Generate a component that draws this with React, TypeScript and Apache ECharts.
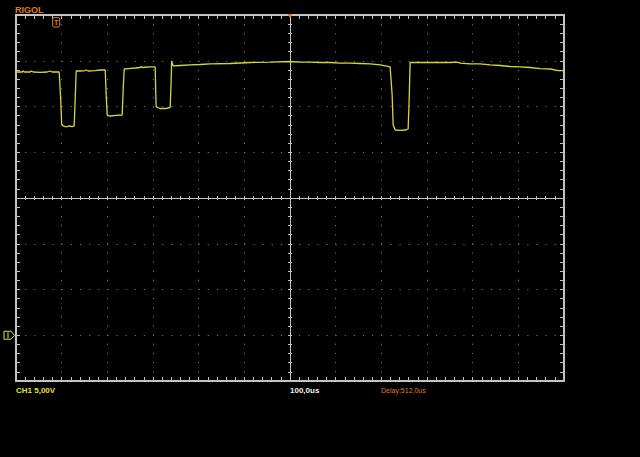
import React, { useEffect, useRef } from "react";
import * as echarts from "echarts";

// Time relative to trigger (µs) and voltage relative to CH1 ground (V)
const timeUs = [
  -88, -74.4, -72.3, -70.1, -56.9, -54.7, -50.4, -35.0, -19.7, -13.1, -8.8, 6.6,
  9.9, 12.0,
  15.3, 21.9, 28.5, 35.0, 39.4,
  41.6, 43.8,
  52.6, 63.5, 65.7, 70.1, 85.4, 96.3, 107.3,
  109.5, 111.7,
  118.2, 131.4, 144.5,
  146.7, 148.9,
  157.7, 173.0, 183.9, 186.1, 188.3, 205.8, 216.8,
  217.9, 219.0,
  227.7, 238.7, 249.6,
  251.8, 252.9, 256.2,
  271.5, 293.4, 315.3, 337.2, 381.0, 424.8, 468.6, 512.4, 534.3, 556.2, 578.1, 600.0,
  621.8, 643.7, 665.6, 687.5, 709.4, 731.3,
  735.7, 737.9,
  742.3, 753.2, 764.2, 770.7,
  772.9, 775.1,
  797.0, 818.9, 840.8, 862.7, 878.0, 884.6, 906.5, 928.4, 950.3, 972.2, 994.1,
  1016.0, 1037.9, 1059.8, 1081.7, 1092.6, 1099.2, 1110.1,
];
const volts = [
  28.77, 28.77, 28.88, 28.77, 28.77, 28.88, 28.77, 28.72, 28.77, 28.88, 28.77, 28.77,
  25.71, 23.09,
  22.87, 22.76, 22.87, 22.81, 22.87,
  25.71, 28.88,
  28.88, 28.93, 28.99, 28.88, 28.93, 28.99, 28.99,
  26.26, 24.07,
  23.96, 24.02, 24.07,
  26.80, 29.10,
  29.15, 29.21, 29.26, 29.37, 29.26, 29.32, 29.32,
  26.80, 24.95,
  24.78, 24.78, 24.89,
  27.90, 29.97, 29.43,
  29.48, 29.54, 29.59, 29.65, 29.70, 29.81, 29.86, 29.92, 29.86, 29.86, 29.81, 29.81,
  29.75, 29.75, 29.70, 29.65, 29.54, 29.32,
  26.26, 22.98,
  22.43, 22.38, 22.43, 22.54,
  25.71, 29.81,
  29.81, 29.81, 29.81, 29.81, 29.86, 29.75, 29.65, 29.65, 29.54, 29.48, 29.37,
  29.32, 29.26, 29.15, 29.10, 28.99, 28.93, 28.93,
];

const US_PER_DIV = 100;
const V_PER_DIV = 5;
const DELAY_US = 512;
const GROUND_DIV = -3;
const X_DIVS = [-6, 6];
const Y_DIVS = [-4, 4];

const labelCh = "CH1 5,00V";
const labelTime = "100,0us";
const labelDelay = "Delay:512,0us";
const labelBrand = "RIGOL";

const GRID_COLOR = "#707070";
const FRAME = "#c4c4c4";
const TRACE = "#d6d63a";
const ORANGE = "#e07a22";
const YELLOW = "#e4e43e";

export default function App() {
  const ref = useRef<HTMLDivElement>(null);
  useEffect(() => {
    if (!ref.current) return;
    const chart = echarts.init(ref.current, undefined, { renderer: "svg" });
    const none = { show: false };
    const dotted = { show: true, lineStyle: { color: GRID_COLOR, type: [1.2, 7.93], width: 1 } };
    const centerX = (pos: "top" | "bottom", showSplit: boolean) => ({
      type: "value",
      gridIndex: 0,
      min: X_DIVS[0],
      max: X_DIVS[1],
      interval: 1,
      position: pos,
      axisLine: { show: true, onZero: true, onZeroAxisIndex: 0, lineStyle: { color: FRAME, width: 1 } },
      axisTick: { show: true, length: 2, lineStyle: { color: FRAME } },
      minorTick: { show: true, splitNumber: 5, length: 2, lineStyle: { color: FRAME } },
      axisLabel: none,
      splitLine: showSplit ? dotted : none,
      minorSplitLine: none,
    });
    const centerY = (pos: "left" | "right", showSplit: boolean) => ({
      type: "value",
      gridIndex: 0,
      min: Y_DIVS[0],
      max: Y_DIVS[1],
      interval: 1,
      position: pos,
      axisLine: { show: true, onZero: true, onZeroAxisIndex: 0, lineStyle: { color: FRAME, width: 1 } },
      axisTick: { show: true, length: 2, lineStyle: { color: FRAME } },
      minorTick: { show: true, splitNumber: 5, length: 2, lineStyle: { color: FRAME } },
      axisLabel: none,
      splitLine: showSplit ? dotted : none,
      minorSplitLine: none,
    });
    const borderX = (pos: "top" | "bottom") => ({
      type: "value",
      gridIndex: 0,
      min: X_DIVS[0],
      max: X_DIVS[1],
      interval: 1,
      position: pos,
      axisLine: { show: true, onZero: false, lineStyle: { color: FRAME, width: 2 } },
      axisTick: { show: true, inside: true, length: 4, lineStyle: { color: FRAME } },
      minorTick: { show: true, splitNumber: 5, length: 4, lineStyle: { color: FRAME } },
      axisLabel: none,
      splitLine: none,
    });
    const borderY = (pos: "left" | "right") => ({
      type: "value",
      gridIndex: 0,
      min: Y_DIVS[0],
      max: Y_DIVS[1],
      interval: 1,
      position: pos,
      axisLine: { show: true, onZero: false, lineStyle: { color: FRAME, width: 2 } },
      axisTick: { show: true, inside: true, length: 4, lineStyle: { color: FRAME } },
      minorTick: { show: true, splitNumber: 5, length: 4, lineStyle: { color: FRAME } },
      axisLabel: none,
      splitLine: none,
    });
    const tMin = DELAY_US + X_DIVS[0] * US_PER_DIV;
    const tMax = DELAY_US + X_DIVS[1] * US_PER_DIV;
    const vMin = (Y_DIVS[0] - GROUND_DIV) * V_PER_DIV;
    const vMax = (Y_DIVS[1] - GROUND_DIV) * V_PER_DIV;

    const option: any = {
      animation: false,
      backgroundColor: "#000000",
      grid: { left: 16, top: 15, width: 548, height: 366, containLabel: false },
      xAxis: [
        centerX("bottom", true),
        centerX("top", false),
        borderX("bottom"),
        borderX("top"),
        { type: "value", gridIndex: 0, min: tMin, max: tMax, show: false, splitLine: none },
      ],
      yAxis: [
        centerY("left", true),
        centerY("right", false),
        borderY("left"),
        borderY("right"),
        { type: "value", gridIndex: 0, min: vMin, max: vMax, show: false, splitLine: none },
      ],
      series: [
        {
          type: "line",
          xAxisIndex: 4,
          yAxisIndex: 4,
          data: timeUs.map((t, i) => [t, volts[i]]),
          showSymbol: false,
          symbol: "none",
          lineStyle: { color: TRACE, width: 1.3 },
          z: 5,
        },
      ],
    };
    chart.setOption(option);

    const trigX = chart.convertToPixel({ xAxisIndex: 4 }, 0) as number;
    const centerPx = chart.convertToPixel({ xAxisIndex: 4 }, DELAY_US) as number;
    const groundY = chart.convertToPixel({ yAxisIndex: 4 }, 0) as number;

    chart.setOption({
      graphic: [
        {
          type: "text",
          left: 15,
          top: 5,
          style: { text: labelBrand, fill: ORANGE, font: "bold 9px 'Liberation Sans'" },
        },
        {
          type: "rect",
          shape: { x: trigX - 3.5, y: 17.5, width: 7, height: 9.5, r: 1.5 },
          style: { fill: "none", stroke: ORANGE, lineWidth: 1 },
          z: 10,
        },
        {
          type: "text",
          x: trigX,
          y: 22.5,
          style: {
            text: "T",
            fill: ORANGE,
            font: "bold 7px 'Liberation Sans'",
            align: "center",
            verticalAlign: "middle",
          },
          z: 10,
        },
        {
          type: "polygon",
          shape: {
            points: [
              [centerPx - 2.5, 14],
              [centerPx + 2.5, 14],
              [centerPx, 18],
            ],
          },
          style: { fill: ORANGE },
          z: 10,
        },
        {
          type: "polygon",
          shape: {
            points: [
              [4, groundY - 4],
              [11, groundY - 4],
              [14.5, groundY],
              [11, groundY + 4],
              [4, groundY + 4],
            ],
          },
          style: { fill: "none", stroke: YELLOW, lineWidth: 1 },
          z: 10,
        },
        {
          type: "line",
          shape: { x1: 8, y1: groundY - 3, x2: 8, y2: groundY + 3 },
          style: { stroke: YELLOW, lineWidth: 1 },
          z: 10,
        },
        {
          type: "text",
          left: 16,
          top: 386,
          style: { text: labelCh, fill: YELLOW, font: "bold 8px 'Liberation Sans'" },
        },
        {
          type: "text",
          left: 290,
          top: 386,
          style: { text: labelTime, fill: "#f0f0f0", font: "bold 8px 'Liberation Sans'" },
        },
        {
          type: "text",
          left: 381,
          top: 386.5,
          style: { text: labelDelay, fill: ORANGE, font: "7px 'Liberation Sans'" },
        },
      ],
    });

    return () => chart.dispose();
  }, []);
  return (
    <div
      ref={ref}
      style={{
        position: "absolute",
        left: 0,
        top: 0,
        width: 640,
        height: 457,
        background: "#000",
      }}
    />
  );
}
